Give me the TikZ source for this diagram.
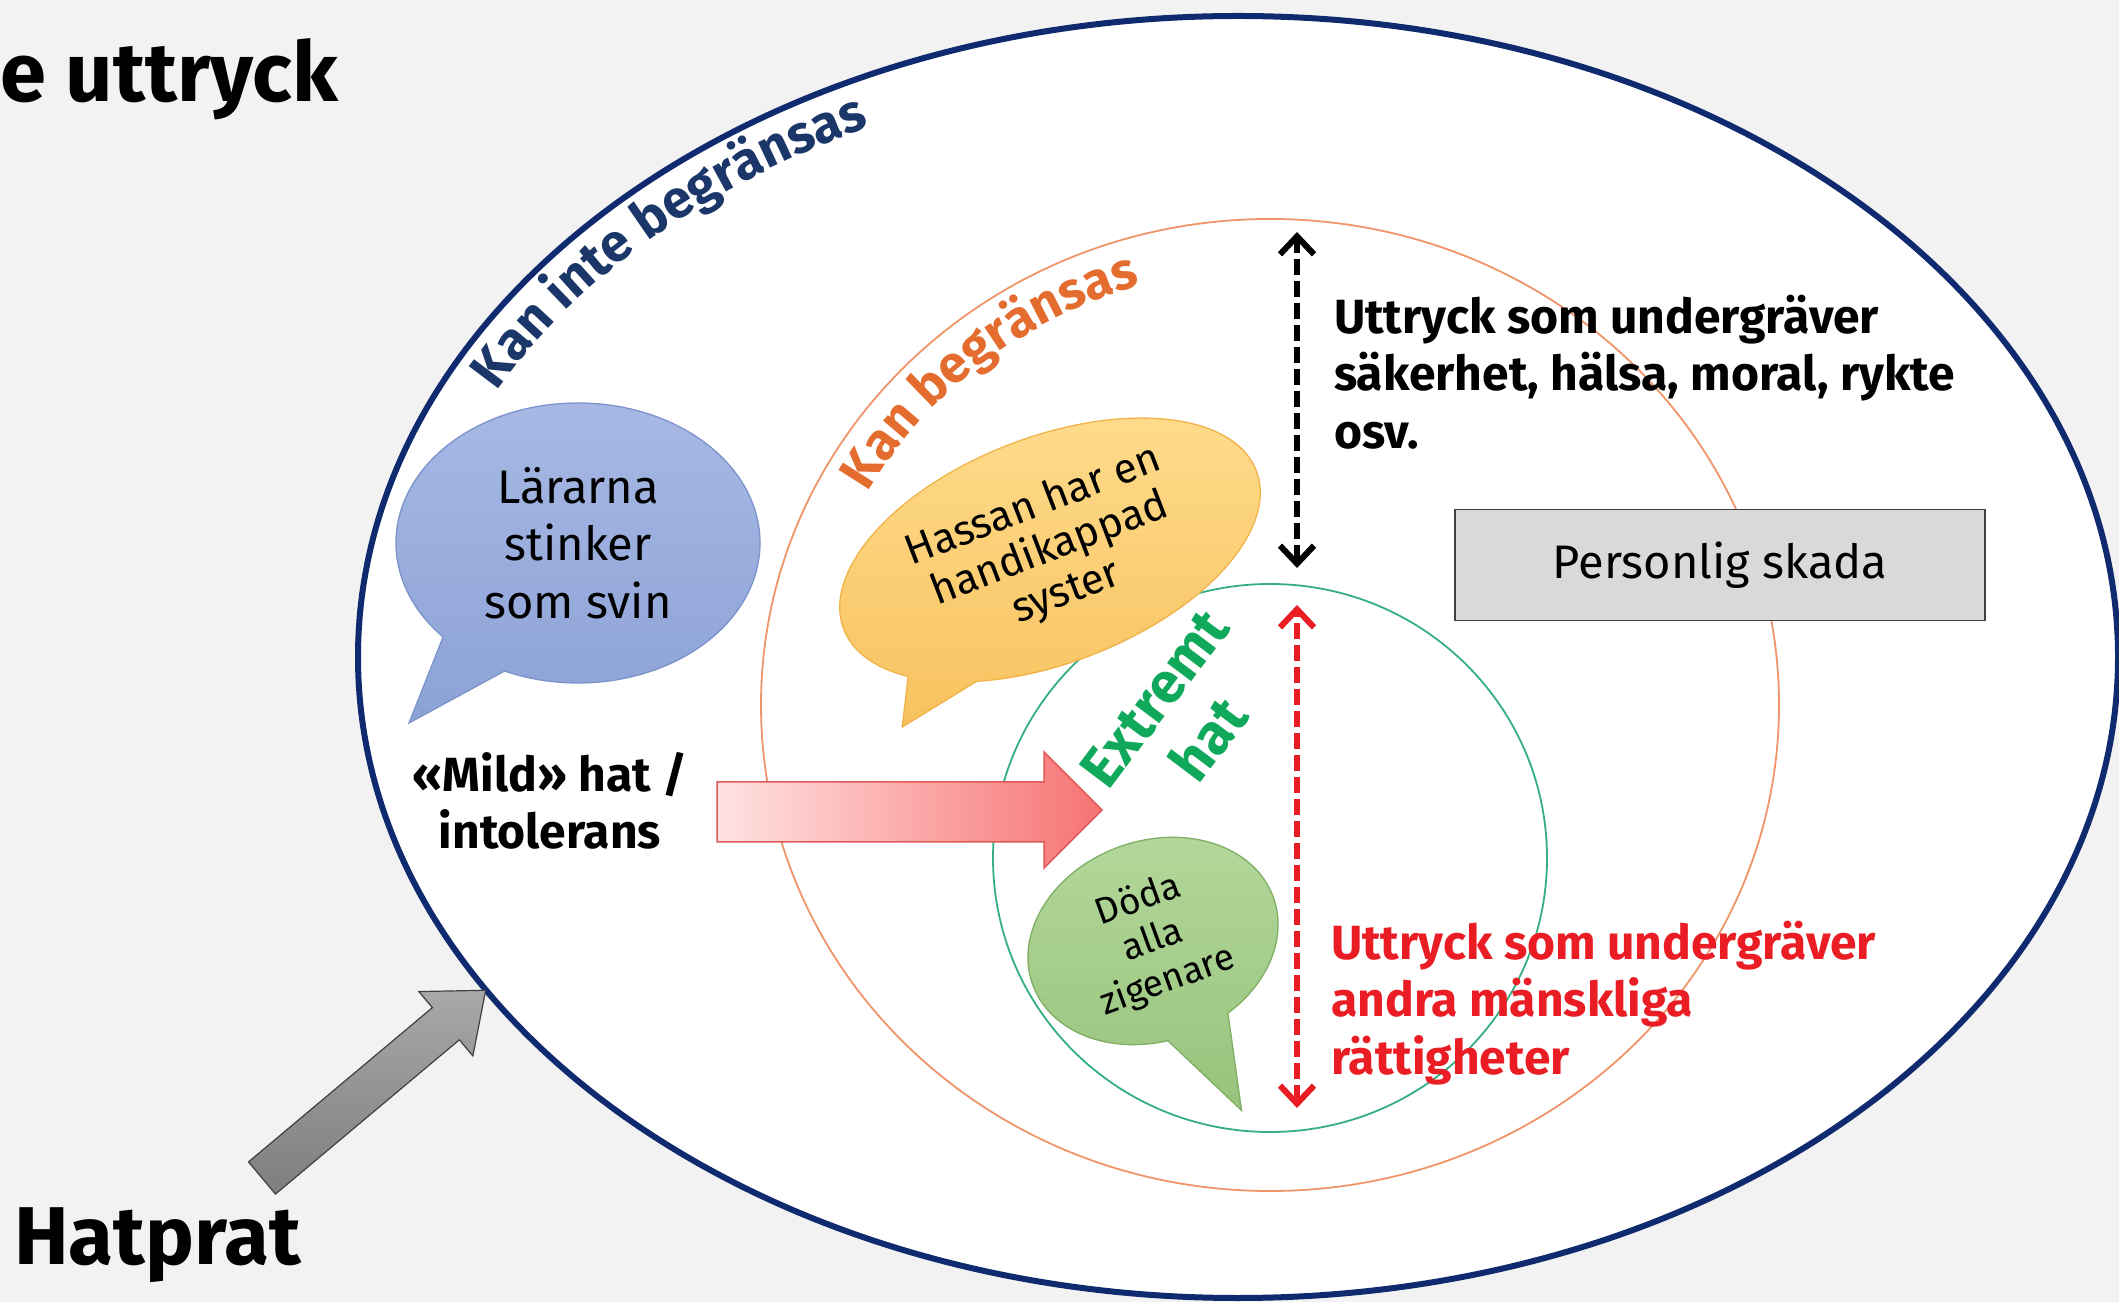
\documentclass[tikz,border=0pt]{standalone}
\usepackage{fontspec}
\setmainfont{Fira Sans}
\usetikzlibrary{shapes.callouts,arrows.meta,decorations.text}
\definecolor{bgcol}{HTML}{F2F2F2}
\definecolor{navy}{HTML}{0F2A6E}
\definecolor{navytext}{HTML}{1B3669}
\definecolor{orangeline}{HTML}{F0956A}
\definecolor{orangetext}{HTML}{E36C2E}
\definecolor{greenline}{HTML}{35AF80}
\definecolor{greentext}{HTML}{10A85A}
\definecolor{redtext}{HTML}{EA1C24}
\definecolor{blueA}{HTML}{A7B8E4}
\definecolor{blueB}{HTML}{8CA2D6}
\definecolor{blueD}{HTML}{7C93CB}
\definecolor{orA}{HTML}{FFDC8E}
\definecolor{orB}{HTML}{F7C25E}
\definecolor{orD}{HTML}{F1B348}
\definecolor{grA}{HTML}{B4D89C}
\definecolor{grB}{HTML}{97C37B}
\definecolor{grD}{HTML}{7FAF63}
\definecolor{pinkA}{HTML}{FFE2E2}
\definecolor{pinkB}{HTML}{F77373}
\definecolor{pinkD}{HTML}{E05A5A}
\definecolor{grayA}{HTML}{A8A8A8}
\definecolor{grayB}{HTML}{7E7E7E}
\definecolor{boxfill}{HTML}{D9D9D9}
\definecolor{boxline}{HTML}{3F3F3F}
\newcommand{\fsz}[2]{\fontsize{#1}{#2}\selectfont}
\begin{document}
\begin{tikzpicture}[x=1pt,y=1pt,
  bodytext/.style={inner sep=0pt, align=left, font=\fsz{48}{57.5}\bfseries},
  bubble/.style={ellipse callout, inner sep=0pt, align=center, line width=1.3pt},
  dasharrow/.style={dash pattern=on 16pt off 6pt, {Straight Barb[length=18pt,width=34pt]}-{Straight Barb[length=18pt,width=34pt]}}
  ]
\useasboundingbox (0,0) rectangle (2119,1302);
\fill[bgcol] (0,0) rectangle (2119,1302);
\draw[navy, line width=6pt, fill=white] (1238,645) ellipse [x radius=880, y radius=641];
\draw[orangeline, line width=1.8pt] (1270,597) ellipse [x radius=509, y radius=486];
\draw[greenline, line width=1.8pt] (1270,444) ellipse [x radius=277, y radius=274];

% curved labels
\path[decorate, decoration={text along path, text align=center, text color=navytext,
  text={|\fsz{53}{53}\bfseries|Kan inte begränsas}}]
  (1238,645) ++(179:830 and 591) arc[start angle=179, end angle=97, x radius=830, y radius=591];
\path[decorate, decoration={text along path, text align=center, text color=orangetext,
  text={|\fsz{52}{52}\bfseries|Kan begränsas}}]
  (1270,597) ++(167:460 and 437) arc[start angle=167, end angle=91, x radius=460, y radius=437];

% speech bubbles
\node[bubble, draw=blueD, top color=blueA, bottom color=blueB, minimum width=364pt, minimum height=280pt,
  callout absolute pointer={(409,579)}, callout pointer arc=24, font=\fsz{47}{57.5}] (blue) at (578,759)
  {Lärarna\\stinker\\som svin};
\node[bubble, draw=orD, top color=orA, bottom color=orB, minimum width=442pt, minimum height=226pt, rotate=21,
  callout relative pointer={(-52,-29)}, callout pointer arc=22, font=\fsz{42}{46}] (orange) at (1050,752)
  {Hassan har en\\handikappad\\syster};
\node[bubble, draw=grD, top color=grA, bottom color=grB, minimum width=256pt, minimum height=200pt, rotate=20,
  callout relative pointer={(12,-90)}, callout pointer arc=30, font=\fsz{37}{43}] (green) at (1153,361)
  {Döda\\alla\\zigenare};

% box
\node[draw=boxline, fill=boxfill, line width=1.5pt, minimum width=530pt, minimum height=111pt, inner sep=0pt,
  font=\fsz{47}{47}] (box) at (1720,737) {Personlig skada};

% texts
\node[bodytext, anchor=west] (blacktext) at (1334,930) {Uttryck som undergräver\\säkerhet, hälsa, moral, rykte\\osv.};
\node[bodytext, anchor=west, text=redtext] (redtext) at (1331,299) {Uttryck som undergräver\\andra mänskliga\\rättigheter};
\node[bodytext, align=center] (mild) at (550,501) {«Mild» hat /\\intolerans};
\node[rotate=53, inner sep=0pt, align=center, font=\fsz{57}{68}\bfseries, text=greentext] (extreme) at (1182,583) {Extremt\\hat};
\node[anchor=base west, inner sep=0pt, font=\fsz{83}{83}\bfseries] (title) at (0,1200) {e uttryck};
\node[anchor=base west, inner sep=0pt, font=\fsz{82}{82}\bfseries] (hatprat) at (14,38) {Hatprat};

% pink block arrow
\draw[draw=pinkD, line width=1.5pt, left color=pinkA, right color=pinkB]
  (717,520) -- (1044,520) -- (1044,550) -- (1102,492) -- (1044,434) -- (1044,460) -- (717,460) -- cycle;

% gray block arrow
\begin{scope}[shift={(262,124)}, rotate=40]
\draw[draw=black!75, line width=1.2pt, top color=grayA, bottom color=grayB]
  (0,-21) -- (240,-21) -- (240,-42) -- (292,0) -- (240,42) -- (240,21) -- (0,21) -- cycle;
\end{scope}

% dashed double arrows
\coordinate (blackTop) at (1297,1070);
\coordinate (blackBot) at (1297,734);
\draw[dasharrow, line width=6pt] (blackBot) -- (blackTop);
\coordinate (redTop) at (1297,697);
\coordinate (redBot) at (1297,194);
\draw[dasharrow, redtext, line width=6pt] (redBot) -- (redTop);
\end{tikzpicture}
\end{document}
